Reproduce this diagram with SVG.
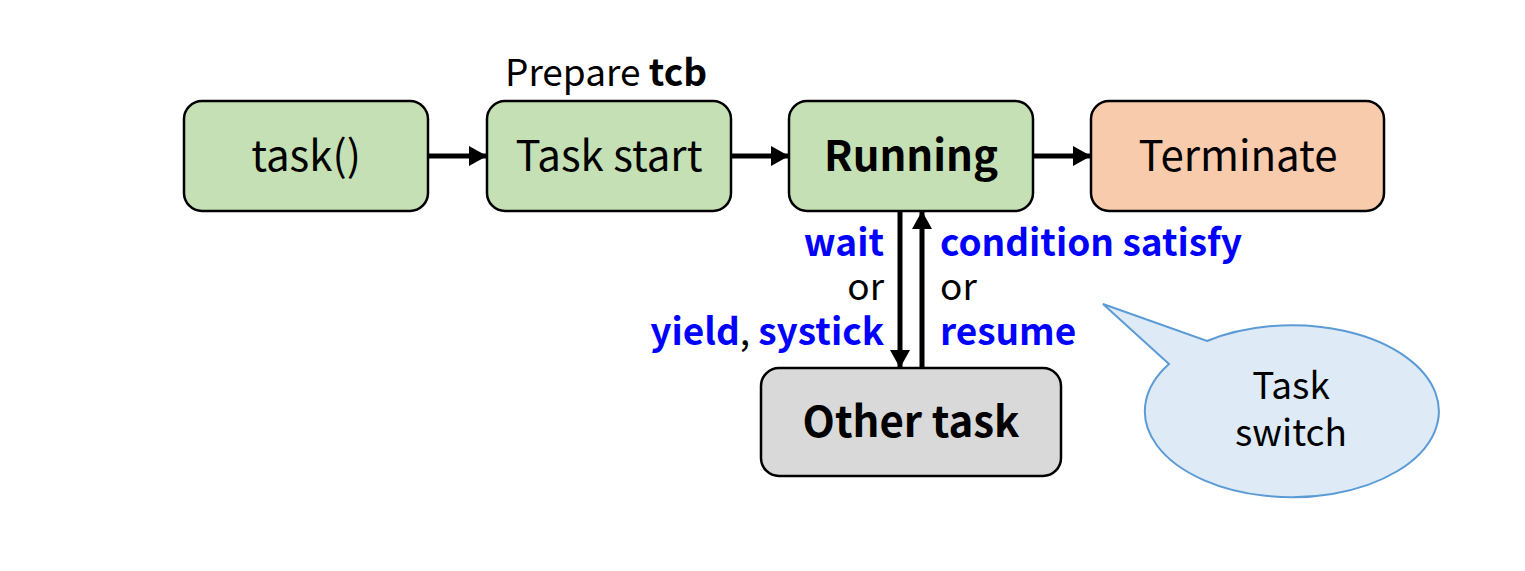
<svg xmlns="http://www.w3.org/2000/svg" width="1525" height="571" viewBox="0 0 1525 571">
<style>
text{font-family:"Noto Sans CJK JP","Noto Sans",sans-serif;}
.box{stroke:#000;stroke-width:2.5;}
.g{fill:#C5E0B4;}
.o{fill:#F8CBAD;}
.gr{fill:#D9D9D9;}
.lbl{font-size:42px;fill:#000;text-anchor:middle;}
.b{font-weight:bold;}
.blue{fill:#0000FF;font-weight:bold;}
.ann{font-size:37px;fill:#000;}
.conn{stroke:#000;stroke-width:5;fill:none;}
</style>
<defs>
<marker id="ah" viewBox="0 0 9 10" refX="8.5" refY="5" markerWidth="3.6" markerHeight="4" orient="auto" markerUnits="strokeWidth">
<path d="M0,0 L9,5 L0,10 Z" fill="#000"/>
</marker>
</defs>
<rect width="1525" height="571" fill="#fff"/>
<g id="connectors">
<line class="conn" x1="428" y1="156" x2="486" y2="156" marker-end="url(#ah)"/>
<line class="conn" x1="731" y1="156" x2="788" y2="156" marker-end="url(#ah)"/>
<line class="conn" x1="1033" y1="156" x2="1090" y2="156" marker-end="url(#ah)"/>
<line class="conn" x1="900" y1="211" x2="900" y2="367" marker-end="url(#ah)"/>
<line class="conn" x1="922" y1="368" x2="922" y2="212" marker-end="url(#ah)"/>
</g>
<g id="labels">
<text class="ann" x="505" y="86">Prepare <tspan class="b">tcb</tspan></text>
<text class="ann" x="884" y="256" text-anchor="end"><tspan class="blue">wait</tspan></text>
<text class="ann" x="884" y="300" text-anchor="end">or</text>
<text class="ann" x="884" y="345" text-anchor="end"><tspan class="blue">yield</tspan>, <tspan class="blue">systick</tspan></text>
<text class="ann" x="940" y="256"><tspan class="blue">condition satisfy</tspan></text>
<text class="ann" x="940" y="300">or</text>
<text class="ann" x="940" y="345"><tspan class="blue">resume</tspan></text>
</g>
<g id="task">
<rect class="box g" x="184" y="101" width="244" height="110" rx="18"/>
<text class="lbl" x="306" y="171">task()</text>
</g>
<g id="taskstart">
<rect class="box g" x="487" y="101" width="244" height="110" rx="18"/>
<text class="lbl" x="609" y="171">Task start</text>
</g>
<g id="running">
<rect class="box g" x="789" y="101" width="244" height="110" rx="18"/>
<text class="lbl b" x="911" y="171">Running</text>
</g>
<g id="terminate">
<rect class="box o" x="1091" y="101" width="293" height="110" rx="18"/>
<text class="lbl" x="1238" y="171">Terminate</text>
</g>
<g id="othertask">
<rect class="box gr" x="761" y="368" width="300" height="108" rx="18"/>
<text class="lbl b" x="911" y="437">Other task</text>
</g>
<g id="callout">
<path d="M1207,341 A147,86 0 1 1 1169,364 L1103,304 Z" fill="#DEEBF7" stroke="#5B9BD5" stroke-width="2"/>
<text class="ann" x="1291" y="399" text-anchor="middle">Task</text>
<text class="ann" x="1291" y="446" text-anchor="middle">switch</text>
</g>
</svg>
